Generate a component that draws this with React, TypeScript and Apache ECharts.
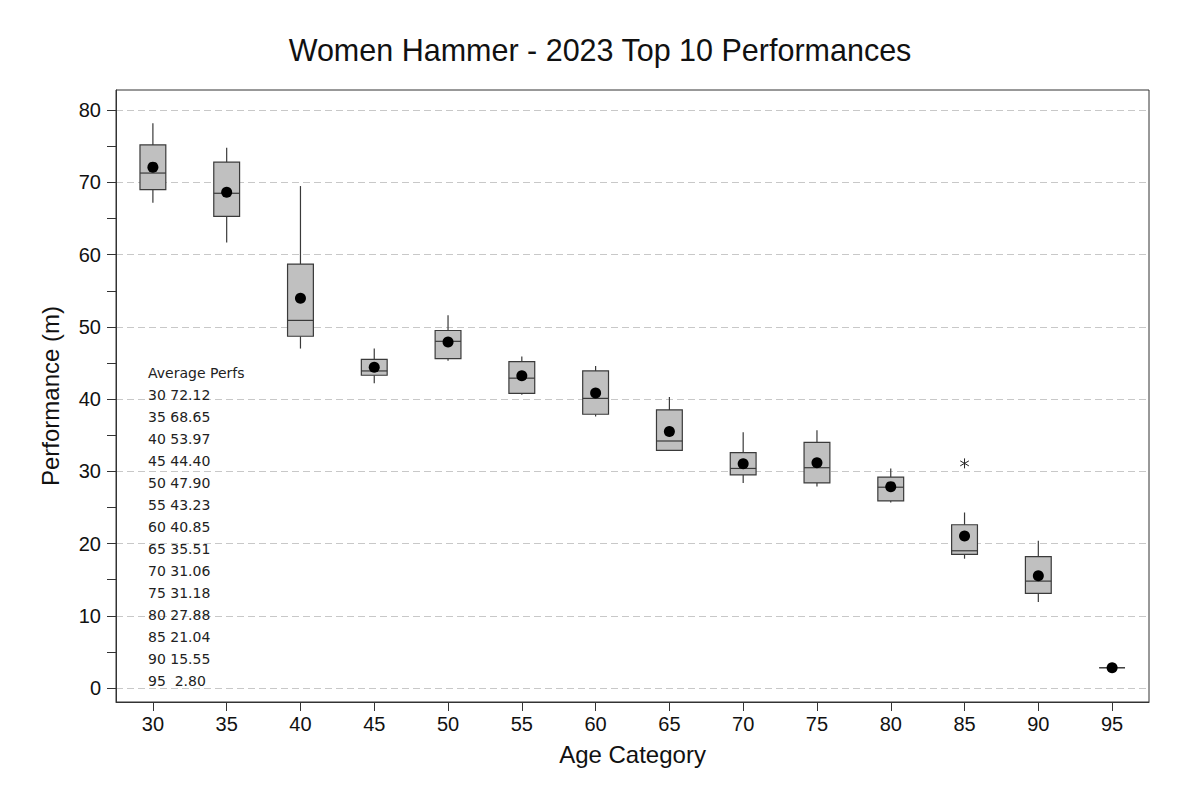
import React, { useEffect, useRef } from "react";
import * as echarts from "echarts";

const categories = ["30", "35", "40", "45", "50", "55", "60", "65", "70", "75", "80", "85", "90", "95"];
const whiskerLow = [67.2, 61.7, 47.0, 42.2, 45.3, 40.6, 37.6, 32.9, 28.4, 27.9, 25.7, 17.9, 11.9, 2.8];
const q1 = [69.0, 65.3, 48.7, 43.3, 45.6, 40.8, 37.9, 32.9, 29.5, 28.4, 25.9, 18.5, 13.1, 2.8];
const median = [71.3, 68.5, 50.9, 43.9, 48.0, 42.9, 40.1, 34.2, 30.4, 30.5, 27.8, 19.0, 14.8, 2.8];
const q3 = [75.2, 72.8, 58.7, 45.5, 49.5, 45.2, 43.9, 38.5, 32.6, 34.0, 29.2, 22.6, 18.2, 2.8];
const whiskerHigh = [78.2, 74.8, 69.5, 47.0, 51.6, 45.9, 44.6, 40.3, 35.4, 35.7, 30.4, 24.3, 20.4, 2.8];
const means = [72.12, 68.65, 53.97, 44.4, 47.9, 43.23, 40.85, 35.51, 31.06, 31.18, 27.88, 21.04, 15.55, 2.8];
const outlierCategory = ["85"];
const outlierValue = [31.1];

const majorTicks = [0, 10, 20, 30, 40, 50, 60, 70, 80];
const minorTicks = [5, 15, 25, 35, 45, 55, 65, 75];

const LINE = "#3a3a3a";

export default function App() {
  const ref = useRef<HTMLDivElement>(null);

  useEffect(() => {
    if (!ref.current) return;
    const chart = echarts.init(ref.current, null, { renderer: "svg" });

    const boxData = categories.map((_, i) => [i, whiskerLow[i], q1[i], median[i], q3[i], whiskerHigh[i]]);
    const meanData = categories.map((c, i) => [c, means[i]]);
    const outlierData = outlierCategory.map((c, i) => [categories.indexOf(c), outlierValue[i]]);

    const annotation = ["Average Perfs"]
      .concat(categories.map((c, i) => `${c} ${means[i].toFixed(2).padStart(5, " ")}`))
      .join("\n");

    const yBase = {
      type: "value" as const,
      min: -1.94,
      max: 82.8,
      position: "left" as const,
    };

    chart.setOption({
      animation: false,
      backgroundColor: "#ffffff",
      title: {
        text: "Women Hammer - 2023 Top 10 Performances",
        left: "center",
        top: 34,
        padding: 0,
        textStyle: {
          fontFamily: "Liberation Sans, Arial, sans-serif",
          fontSize: 30.5,
          fontWeight: "normal",
          color: "#111",
        },
      },
      grid: {
        left: 116,
        right: 51,
        top: 90,
        bottom: 96,
        show: true,
        borderColor: "#333",
        borderWidth: 1,
        backgroundColor: "transparent",
      },
      xAxis: {
        type: "category",
        data: categories,
        boundaryGap: true,
        name: "Age Category",
        nameLocation: "middle",
        nameGap: 40,
        nameTextStyle: { fontFamily: "Liberation Sans, Arial, sans-serif", fontSize: 24, color: "#111" },
        axisLine: { show: true, onZero: false, lineStyle: { color: "#333", width: 1 } },
        axisTick: { show: true, alignWithLabel: true, length: 9, lineStyle: { color: "#333" } },
        axisLabel: { fontFamily: "Liberation Sans, Arial, sans-serif", fontSize: 20, color: "#111", margin: 12 },
        splitLine: { show: false },
      },
      yAxis: [
        {
          ...yBase,
          name: "Performance (m)",
          nameLocation: "middle",
          nameRotate: 90,
          nameGap: 54,
          nameTextStyle: { fontFamily: "Liberation Sans, Arial, sans-serif", fontSize: 24, color: "#111" },
          axisLine: { show: true, lineStyle: { color: "#333", width: 1 } },
          axisTick: { show: true, length: 9, customValues: majorTicks, lineStyle: { color: "#333" } },
          axisLabel: {
            customValues: majorTicks,
            fontFamily: "Liberation Sans, Arial, sans-serif",
            fontSize: 20,
            color: "#111",
            margin: 15,
          },
          splitLine: { show: true, lineStyle: { color: "#c8c8c8", type: [7, 4], width: 1 } },
        },
        {
          ...yBase,
          axisLine: { show: false },
          axisTick: { show: true, length: 9, customValues: minorTicks, lineStyle: { color: "#333" } },
          axisLabel: { show: false },
          splitLine: { show: false },
        },
      ],
      graphic: [
        {
          type: "text",
          left: 148,
          top: 362,
          z: 10,
          style: {
            text: annotation,
            font: "14px 'DejaVu Sans'",
            lineHeight: 22,
            fill: "#222",
          },
        },
      ],
      series: [
        {
          type: "custom",
          name: "box",
          xAxisIndex: 0,
          yAxisIndex: 0,
          data: boxData,
          encode: { x: 0, y: [1, 2, 3, 4, 5] },
          z: 2,
          renderItem: (params: any, api: any) => {
            const idx = api.value(0);
            const wl = api.coord([idx, api.value(1)]);
            const b1 = api.coord([idx, api.value(2)]);
            const md = api.coord([idx, api.value(3)]);
            const b3 = api.coord([idx, api.value(4)]);
            const wh = api.coord([idx, api.value(5)]);
            const bw = api.size([1, 0])[0] * 0.35;
            const x = wl[0];
            const lineStyle = { stroke: LINE, lineWidth: 1.2 };
            return {
              type: "group",
              children: [
                { type: "line", shape: { x1: x, y1: wl[1], x2: x, y2: b1[1] }, style: lineStyle },
                { type: "line", shape: { x1: x, y1: b3[1], x2: x, y2: wh[1] }, style: lineStyle },
                {
                  type: "rect",
                  shape: { x: x - bw / 2, y: b3[1], width: bw, height: b1[1] - b3[1] },
                  style: { fill: "#c0c0c0", stroke: LINE, lineWidth: 1.2 },
                },
                { type: "line", shape: { x1: x - bw / 2, y1: md[1], x2: x + bw / 2, y2: md[1] }, style: lineStyle },
              ],
            };
          },
        },
        {
          type: "scatter",
          name: "mean",
          xAxisIndex: 0,
          yAxisIndex: 0,
          data: meanData,
          symbol: "circle",
          symbolSize: 11,
          itemStyle: { color: "#000", opacity: 1 },
          z: 5,
        },
        {
          type: "custom",
          name: "outlier",
          xAxisIndex: 0,
          yAxisIndex: 0,
          data: outlierData,
          encode: { x: 0, y: 1 },
          z: 5,
          renderItem: (params: any, api: any) => {
            const p = api.coord([api.value(0), api.value(1)]);
            const r = 5;
            const s = { stroke: "#222", lineWidth: 1 };
            const dx = r * Math.cos(Math.PI / 6);
            const dy = r * Math.sin(Math.PI / 6);
            return {
              type: "group",
              children: [
                { type: "line", shape: { x1: p[0], y1: p[1] - r, x2: p[0], y2: p[1] + r }, style: s },
                { type: "line", shape: { x1: p[0] - dx, y1: p[1] - dy, x2: p[0] + dx, y2: p[1] + dy }, style: s },
                { type: "line", shape: { x1: p[0] - dx, y1: p[1] + dy, x2: p[0] + dx, y2: p[1] - dy }, style: s },
              ],
            };
          },
        },
      ],
    });

    return () => chart.dispose();
  }, []);

  return (
    <div
      ref={ref}
      style={{ position: "absolute", left: 0, top: 0, width: 1200, height: 798, background: "#fff" }}
    />
  );
}
